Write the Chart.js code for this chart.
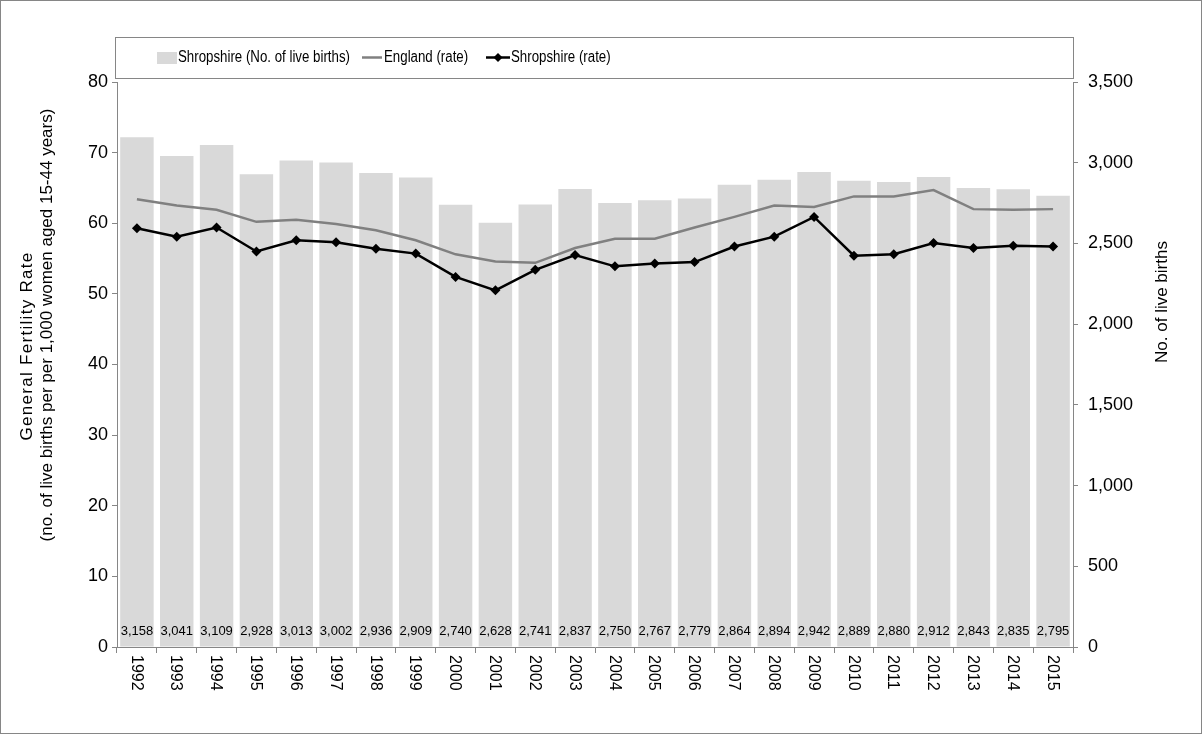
<!DOCTYPE html>
<html>
<head>
<meta charset="utf-8">
<script src="https://cdn.jsdelivr.net/npm/chart.js@4"></script>
<style>
  body { margin: 0; background: #fff; }
  canvas { display: block; }
</style>
</head>
<body>
<canvas id="myChart" width="1202" height="734"></canvas>
<script>
const years = ['1992', '1993', '1994', '1995', '1996', '1997', '1998', '1999', '2000', '2001', '2002', '2003',
  '2004', '2005', '2006', '2007', '2008', '2009', '2010', '2011', '2012', '2013', '2014', '2015']
const liveBirths = [3158, 3041, 3109, 2928, 3013, 3002, 2936, 2909, 2740, 2628, 2741, 2837,
  2750, 2767, 2779, 2864, 2894, 2942, 2889, 2880, 2912, 2843, 2835, 2795]
const englandRate = [63.4, 62.5, 61.9, 60.2, 60.5, 59.9, 59.0, 57.6, 55.6, 54.6, 54.4, 56.5,
  57.8, 57.8, 59.4, 60.9, 62.5, 62.3, 63.8, 63.8, 64.7, 62.0, 61.9, 62.0]
const shropshireRate = [59.3, 58.1, 59.4, 56.0, 57.6, 57.3, 56.4, 55.7, 52.4, 50.5, 53.4, 55.5,
  53.9, 54.3, 54.5, 56.7, 58.1, 60.9, 55.4, 55.6, 57.2, 56.5, 56.8, 56.7]
const leftTitle = ['General Fertility Rate', '(no. of live births per per 1,000 women aged 15-44 years)']
const rightTitle = 'No. of live births'

const FONT = '"Liberation Sans", Arial, sans-serif'
const axisGray = '#868686'

// draws text squeezed horizontally, like the narrow legend font
function narrowText(ctx, text, x, y, squeeze) {
  ctx.save()
  ctx.translate(x, y)
  ctx.scale(squeeze, 1)
  ctx.fillText(text, 0, 0)
  ctx.restore()
}

// legend, titles, bar value labels and rotated year labels
const extras = {
  id: 'extras',
  afterDatasetsDraw(chart) {
    const ctx = chart.ctx
    const area = chart.chartArea
    const meta = chart.getDatasetMeta(2)
    ctx.save()
    ctx.font = '13px ' + FONT
    ctx.fillStyle = '#000'
    ctx.textAlign = 'center'
    ctx.textBaseline = 'middle'
    meta.data.forEach((bar, i) => {
      ctx.fillText(liveBirths[i].toLocaleString('en-GB'), bar.x, area.bottom - 16)
    })
    ctx.restore()
  },
  afterDraw(chart) {
    const ctx = chart.ctx
    const area = chart.chartArea
    const x = chart.scales.x
    ctx.save()

    // outer frame
    ctx.strokeStyle = axisGray
    ctx.lineWidth = 1
    ctx.strokeRect(0.5, 0.5, 1201, 733)

    // year labels, reading top to bottom
    ctx.font = '16px ' + FONT
    ctx.fillStyle = '#000'
    ctx.textAlign = 'left'
    ctx.textBaseline = 'middle'
    years.forEach((y, i) => {
      ctx.save()
      ctx.translate(x.getPixelForValue(i) - 1, area.bottom + 8)
      ctx.rotate(Math.PI / 2)
      ctx.fillText(y, 0, 0)
      ctx.restore()
    })

    // axis titles
    ctx.font = '17px ' + FONT
    ctx.textAlign = 'center'
    ctx.save()
    ctx.translate(27, 346)
    ctx.rotate(-Math.PI / 2)
    ctx.letterSpacing = '1.3px'
    ctx.fillText(leftTitle[0], 0, 0)
    ctx.restore()
    ctx.save()
    ctx.translate(47, 325)
    ctx.rotate(-Math.PI / 2)
    ctx.fillText(leftTitle[1], 0, 0)
    ctx.restore()
    ctx.save()
    ctx.translate(1162, 302)
    ctx.rotate(-Math.PI / 2)
    ctx.fillText(rightTitle, 0, 0)
    ctx.restore()

    // legend box
    ctx.strokeStyle = axisGray
    ctx.strokeRect(115.5, 37.5, 958, 41)
    const ly = 57.5
    const sq = 0.83
    ctx.font = '16px ' + FONT
    ctx.textAlign = 'left'
    ctx.fillStyle = '#d9d9d9'
    ctx.fillRect(157, 52, 20, 12)
    ctx.fillStyle = '#000'
    narrowText(ctx, chart.data.datasets[2].label, 178, ly, sq)

    ctx.strokeStyle = '#808080'
    ctx.lineWidth = 2.5
    ctx.beginPath()
    ctx.moveTo(362, ly)
    ctx.lineTo(382, ly)
    ctx.stroke()
    narrowText(ctx, chart.data.datasets[1].label, 384, ly, sq)

    ctx.strokeStyle = '#000'
    ctx.beginPath()
    ctx.moveTo(486, ly)
    ctx.lineTo(510, ly)
    ctx.stroke()
    ctx.beginPath()
    ctx.moveTo(498, ly - 4.5)
    ctx.lineTo(502.5, ly)
    ctx.lineTo(498, ly + 4.5)
    ctx.lineTo(493.5, ly)
    ctx.closePath()
    ctx.fill()
    narrowText(ctx, chart.data.datasets[0].label, 511, ly, sq)

    ctx.restore()
  }
}

const ctx = document.getElementById('myChart')

new Chart(ctx, {
  type: 'bar',
  data: {
    labels: years,
    datasets: [{
      type: 'line',
      label: 'Shropshire (rate)',
      data: shropshireRate,
      yAxisID: 'y',
      borderColor: '#000',
      backgroundColor: '#000',
      borderWidth: 2.5,
      pointStyle: 'rectRot',
      pointRadius: 5,
      pointBorderWidth: 0,
      tension: 0,
      order: 1
    }, {
      type: 'line',
      label: 'England (rate)',
      data: englandRate,
      yAxisID: 'y',
      borderColor: '#808080',
      borderWidth: 2.5,
      pointRadius: 0,
      tension: 0,
      order: 2
    }, {
      type: 'bar',
      label: 'Shropshire (No. of live births)',
      data: liveBirths,
      yAxisID: 'y2',
      backgroundColor: '#d9d9d9',
      barPercentage: 0.84,
      categoryPercentage: 1,
      order: 3
    }]
  },
  options: {
    responsive: false,
    animation: false,
    layout: { padding: { top: 82, left: 0, right: 0, bottom: 0 } },
    plugins: {
      legend: { display: false },
      tooltip: { enabled: false }
    },
    scales: {
      x: {
        grid: { drawOnChartArea: false, tickLength: 6, color: axisGray },
        border: { color: axisGray },
        ticks: { color: 'transparent', maxRotation: 90, minRotation: 90, font: { size: 16, family: FONT } },
        afterFit(s) { s.height = 87 }
      },
      y: {
        position: 'left',
        min: 0,
        max: 80,
        ticks: { stepSize: 10, color: '#000', padding: 4, font: { size: 18, family: FONT } },
        grid: { drawOnChartArea: false, tickLength: 5, color: axisGray },
        border: { color: axisGray },
        afterFit(s) { s.width = 117 }
      },
      y2: {
        position: 'right',
        min: 0,
        max: 3500,
        ticks: {
          stepSize: 500,
          color: '#000',
          padding: 10,
          font: { size: 18, family: FONT },
          callback: v => v.toLocaleString('en-GB')
        },
        grid: { drawOnChartArea: false, tickLength: 5, color: axisGray },
        border: { color: axisGray },
        afterFit(s) { s.width = 129 }
      }
    }
  },
  plugins: [extras]
})
</script>
</body>
</html>
